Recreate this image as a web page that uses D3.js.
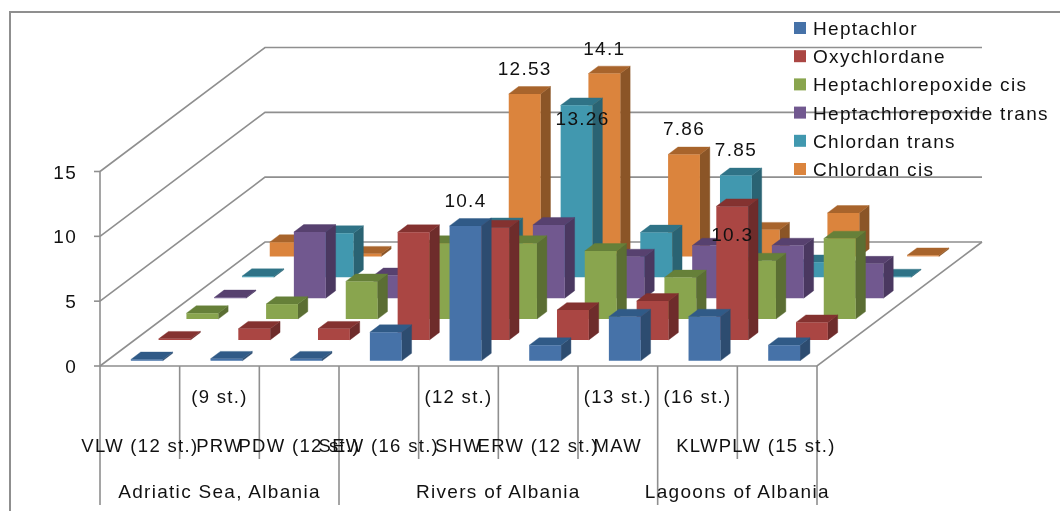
<!DOCTYPE html>
<html><head><meta charset="utf-8">
<script src="https://cdn.jsdelivr.net/npm/d3@7"></script>
<style>
html,body{margin:0;padding:0;background:#fff}
svg{filter:blur(0.4px)}
text{font-family:"Liberation Sans",Arial,sans-serif;fill:#111;letter-spacing:1.3px}
</style></head><body>
<svg id="c" width="1060" height="511"></svg>
<script>
const categories = ["VLW (12 st.)","PRW (9 st.)","PDW (12 st.)","SEW (16 st.)","SHW (12 st.)","ERW (12 st.)","MAW (13 st.)","KLW (16 st.)","PLW (15 st.)"];
const level1Lines = [["VLW (12 st.)"],["(9 st.)","PRW"],["PDW (12 st.)"],["SEW (16 st.)"],["(12 st.)","SHW"],["ERW (12 st.)"],["(13 st.)","MAW"],["(16 st.)","KLW"],["PLW (15 st.)"]];
const groups = ["Adriatic Sea, Albania","Rivers of Albania","Lagoons of Albania"];
const groupSpans = [[0,3],[3,7],[7,9]];
const seriesNames = ["Heptachlor","Oxychlordane","Heptachlorepoxide cis","Heptachlorepoxide trans","Chlordan trans","Chlordan cis"];
const heptachlor = [0.1,0.15,0.15,2.2,10.4,1.2,3.4,3.4,1.2];
const oxychlordane = [0.08,0.85,0.85,8.3,8.65,2.3,3.0,10.3,1.35];
const heptaCis = [0.45,1.15,2.9,5.85,5.85,5.25,3.2,4.5,6.2];
const heptaTrans = [0.05,5.1,1.75,3.0,5.65,3.2,4.05,4.05,2.65];
const chlordanTrans = [0.08,3.4,1.0,4.0,13.26,3.45,7.85,1.15,0.05];
const chlordanCis = [1.1,0.2,0.5,12.53,14.1,7.86,2.05,3.35,0.08];
const seriesValues = [heptachlor,oxychlordane,heptaCis,heptaTrans,chlordanTrans,chlordanCis];
const yTicks = [0,5,10,15];
// labelled points: [series index, category index]
const labelled = [[0,4],[5,3],[5,4],[4,4],[5,5],[4,6],[1,7]];
const labelsInside = new Set(["4-4","1-7"]);

const faceFront = ["#4672a8","#aa4643","#89a54e","#71588f","#4198af","#db843d"];
const faceTop   = ["#305a87","#843230","#668039","#57416f","#2f7387","#a8642c"];
const faceSide  = ["#2d4c70","#6e2c2b","#5b6e33","#4a3860","#2a6373","#8b5527"];
const gridC = "#8f8f8f";

const svg = d3.select("#c");
const X0=100,X1=817,Y0=366,DX=165,DY=124;
const xBand = d3.scaleBand().domain(categories).range([X0,X1]).paddingInner(0.6).paddingOuter(0.3);
const zBand = d3.scaleBand().domain(seriesNames).range([-0.012,0.998]).paddingInner(0.645).paddingOuter(0.3225);
const yH = d3.scaleLinear().domain([0,15]).range([0,-194.5]);
const P = (x,z,v)=>[x+z*DX, Y0-z*DY+yH(v)];
const poly = pts => d3.line()(pts)+"Z";

// chart outline (left and top)
svg.append("path").attr("d","M10,511V12H1060").attr("fill","none").attr("stroke",gridC).attr("stroke-width",2);

// gridlines on walls
const grid = svg.append("g").attr("fill","none").attr("stroke",gridC).attr("stroke-width",1.6);
yTicks.forEach(t=>{
  grid.append("path").attr("d",d3.line()([P(X0,0,t),P(X0,1,t),P(X1,1,t)]));
});
// floor right + front edges
grid.append("path").attr("d",d3.line()([P(X1,1,0),P(X1,0,0),P(X0,0,0)]));
// y axis
grid.append("path").attr("d",d3.line()([P(X0,0,0),P(X0,0,15)]));
yTicks.forEach(t=>{
  const p=P(X0,0,t);
  grid.append("path").attr("d",`M${p[0]-6},${p[1]}H${p[0]}`);
  svg.append("text").attr("x",77).attr("y",p[1]+7).attr("text-anchor","end").attr("font-size",19).text(t);
});

// bars, back to front
const rows = seriesNames.map((n,i)=>({n,i})).reverse();
rows.forEach(r=>{
  const g = svg.append("g");
  const bars = categories.map((c,j)=>({c,j,v:seriesValues[r.i][j]}));
  const w = xBand.bandwidth(), d = zBand.bandwidth(), z0 = zBand(r.n);
  const sel = g.selectAll("g").data(bars).join("g");
  sel.append("path").attr("fill",faceSide[r.i]).attr("stroke",faceSide[r.i]).attr("stroke-width",.4)
    .attr("d",b=>{const x=xBand(b.c)+w;return poly([P(x,z0,0),P(x,z0+d,0),P(x,z0+d,b.v),P(x,z0,b.v)]);});
  sel.append("path").attr("fill",faceTop[r.i]).attr("stroke",faceTop[r.i]).attr("stroke-width",.4)
    .attr("d",b=>{const x=xBand(b.c);return poly([P(x,z0,b.v),P(x+w,z0,b.v),P(x+w,z0+d,b.v),P(x,z0+d,b.v)]);});
  sel.append("path").attr("fill",faceFront[r.i])
    .attr("d",b=>{const x=xBand(b.c);return poly([P(x,z0,0),P(x+w,z0,0),P(x+w,z0,b.v),P(x,z0,b.v)]);});
});

// data labels
labelled.forEach(([s,c])=>{
  const v=seriesValues[s][c], cat=categories[c], z0=zBand(seriesNames[s]);
  const top=P(xBand(cat)+xBand.bandwidth()/2,z0,v);
  const inside=labelsInside.has(s+"-"+c);
  svg.append("text").attr("x",top[0]+(s===4&&c===4?6:0)).attr("y",top[1]+(inside?(s===4?13:28):-26)+7)
    .attr("text-anchor","middle").attr("font-size",19).text(v);
});

// multi-level axis
const sep = svg.append("g").attr("stroke",gridC).attr("stroke-width",1.6);
const step = xBand.step();
d3.range(10).forEach(i=>{
  const major = groupSpans.some(s=>s[0]===i||s[1]===i);
  const x=X0+i*step;
  sep.append("line").attr("x1",x).attr("x2",x).attr("y1",Y0).attr("y2",major?505:459);
});
level1Lines.forEach((lines,i)=>{
  const cx=X0+(i+.5)*step;
  const ys = lines.length===2?[403,452]:[452];
  lines.forEach((t,k)=>svg.append("text").attr("x",cx).attr("y",ys[k]).attr("text-anchor","middle").attr("font-size",18.5).text(t));
});
groups.forEach((g,i)=>{
  const cx=X0+(groupSpans[i][0]+groupSpans[i][1])/2*step;
  svg.append("text").attr("x",cx).attr("y",498).attr("text-anchor","middle").attr("font-size",19).text(g);
});

// legend
const lg = svg.append("g").selectAll("g").data(seriesNames).join("g")
  .attr("transform",(d,i)=>`translate(794,${28+i*28.2})`);
lg.append("rect").attr("y",-6).attr("width",12).attr("height",12).attr("fill",(d,i)=>faceFront[i]);
lg.append("text").attr("x",19).attr("y",7).attr("font-size",19).text(d=>d);
</script>
</body></html>
